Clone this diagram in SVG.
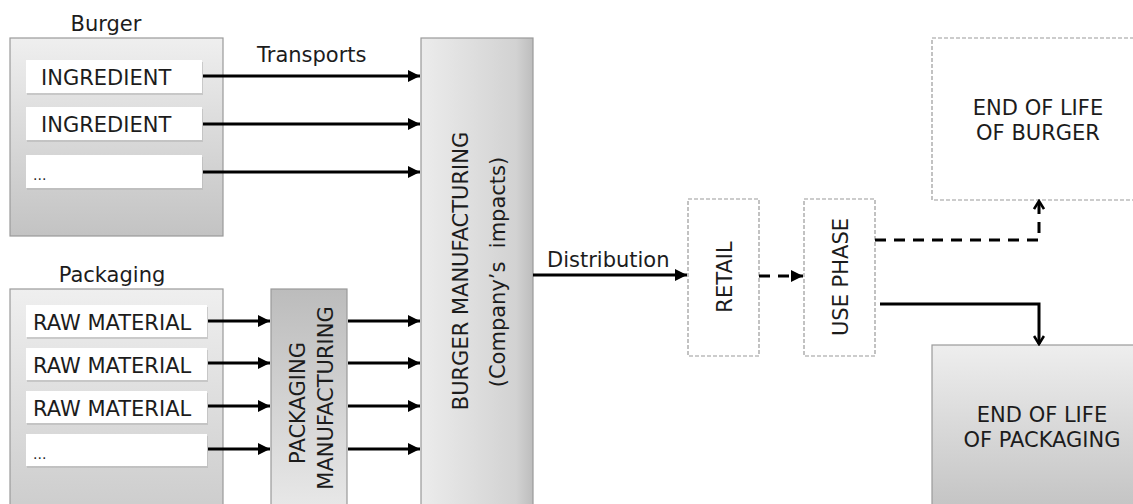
<svg xmlns="http://www.w3.org/2000/svg" width="1133" height="504" viewBox="0 0 1133 504">
<defs>
<linearGradient id="gV" x1="0" y1="0" x2="0" y2="1"><stop offset="0" stop-color="#efefef"/><stop offset="1" stop-color="#c3c3c3"/></linearGradient>
<linearGradient id="gPk" x1="0" y1="0" x2="0" y2="1"><stop offset="0" stop-color="#efefef"/><stop offset="1" stop-color="#cdcdcd"/></linearGradient>
<linearGradient id="gPM" x1="0" y1="0" x2="0" y2="1"><stop offset="0" stop-color="#bcbcbc"/><stop offset="1" stop-color="#e8e8e8"/></linearGradient>
<linearGradient id="gBM" x1="0" y1="0" x2="1" y2="0"><stop offset="0" stop-color="#ececec"/><stop offset="0.85" stop-color="#d2d2d2"/><stop offset="1" stop-color="#bdbdbd"/></linearGradient>
<linearGradient id="gEP" x1="0" y1="0" x2="0" y2="1"><stop offset="0" stop-color="#eeeeee"/><stop offset="1" stop-color="#c2c2c2"/></linearGradient>
<marker id="ah" viewBox="0 0 10 10" refX="10" refY="5" markerWidth="4" markerHeight="4" orient="auto" markerUnits="strokeWidth"><path d="M0,0 L10,5 L0,10 z" fill="#000"/></marker>
<marker id="av" viewBox="0 0 12 12" refX="10" refY="6" markerWidth="4" markerHeight="4" orient="auto" markerUnits="strokeWidth"><path d="M2,1 L10,6 L2,11" fill="none" stroke="#000" stroke-width="2.6"/></marker>
</defs>
<style>
text{font-family:"DejaVu Sans","Liberation Sans",sans-serif;font-size:21px;fill:#1c1c1c}
.grp{stroke:#9a9a9a;stroke-width:1.2}
.wb{fill:#ffffff}
.sh{fill:#b5b5b5;opacity:0.6}
.ds{fill:none;stroke:#9a9a9a;stroke-width:1.2;stroke-dasharray:4 2}
.ln{fill:none;stroke:#000;stroke-width:3}
.dl{fill:none;stroke:#000;stroke-width:3;stroke-dasharray:11 8}
.mid{text-anchor:middle}
</style>

<g id="burger">
<text x="106" y="31" class="mid">Burger</text>
<rect x="10" y="38" width="213" height="198" fill="url(#gV)" class="grp"/>
</g>
<g id="ingredient1"><rect x="27" y="62" width="176" height="33" class="sh"/><rect x="26" y="60" width="176" height="33" class="wb"/><text x="41" y="85">INGREDIENT</text></g>
<g id="ingredient2"><rect x="27" y="109" width="176" height="33" class="sh"/><rect x="26" y="107" width="176" height="33" class="wb"/><text x="41" y="132">INGREDIENT</text></g>
<g id="ingredient3"><rect x="27" y="157" width="176" height="33" class="sh"/><rect x="26" y="155" width="176" height="33" class="wb"/><text x="33" y="180" style="font-size:14px">...</text></g>

<g id="packaging">
<text x="112" y="282" class="mid">Packaging</text>
<rect x="10" y="289" width="213" height="220" fill="url(#gPk)" class="grp"/>
</g>
<g id="raw1"><rect x="27" y="307" width="181" height="32" class="sh"/><rect x="26" y="305" width="181" height="32" class="wb"/><text x="33" y="330">RAW MATERIAL</text></g>
<g id="raw2"><rect x="27" y="350" width="181" height="32" class="sh"/><rect x="26" y="348" width="181" height="32" class="wb"/><text x="33" y="373">RAW MATERIAL</text></g>
<g id="raw3"><rect x="27" y="393" width="181" height="32" class="sh"/><rect x="26" y="391" width="181" height="32" class="wb"/><text x="33" y="416">RAW MATERIAL</text></g>
<g id="raw4"><rect x="27" y="436" width="181" height="32" class="sh"/><rect x="26" y="434" width="181" height="32" class="wb"/><text x="33" y="459" style="font-size:14px">...</text></g>

<g id="packaging-manufacturing">
<rect x="271" y="289" width="76" height="220" fill="url(#gPM)" class="grp"/>
<text class="mid" transform="translate(305,403) rotate(-90)">PACKAGING</text>
<text class="mid" transform="translate(333,398) rotate(-90)">MANUFACTURING</text>
</g>

<g id="burger-manufacturing">
<rect x="421" y="38" width="112" height="471" fill="url(#gBM)" class="grp"/>
<text class="mid" transform="translate(468,271) rotate(-90)">BURGER MANUFACTURING</text>
<text class="mid" transform="translate(505,272) rotate(-90)" xml:space="preserve">(Company’s  impacts)</text>
</g>

<g id="retail">
<rect x="688" y="199" width="71" height="157" class="ds"/>
<text class="mid" transform="translate(732,277) rotate(-90)">RETAIL</text>
</g>
<g id="use-phase">
<rect x="804" y="199" width="71" height="157" class="ds"/>
<text class="mid" transform="translate(848,277) rotate(-90)">USE PHASE</text>
</g>

<g id="eol-burger">
<rect x="932" y="38" width="210" height="162" class="ds"/>
<text x="1038" y="115" class="mid">END OF LIFE</text>
<text x="1038" y="140" class="mid">OF BURGER</text>
</g>
<g id="eol-packaging">
<rect x="932" y="345" width="210" height="170" fill="url(#gEP)" class="grp"/>
<text x="1042" y="422" class="mid">END OF LIFE</text>
<text x="1042" y="447" class="mid">OF PACKAGING</text>
</g>

<g id="connectors">
<text x="257" y="62">Transports</text>
<path class="ln" d="M203,76 H420" marker-end="url(#ah)"/>
<path class="ln" d="M203,124 H420" marker-end="url(#ah)"/>
<path class="ln" d="M203,172 H420" marker-end="url(#ah)"/>
<path class="ln" d="M208,321 H270" marker-end="url(#ah)"/>
<path class="ln" d="M208,363 H270" marker-end="url(#ah)"/>
<path class="ln" d="M208,406 H270" marker-end="url(#ah)"/>
<path class="ln" d="M208,449 H270" marker-end="url(#ah)"/>
<path class="ln" d="M348,321 H420" marker-end="url(#ah)"/>
<path class="ln" d="M348,363 H420" marker-end="url(#ah)"/>
<path class="ln" d="M348,406 H420" marker-end="url(#ah)"/>
<path class="ln" d="M348,449 H420" marker-end="url(#ah)"/>
<text x="547" y="267">Distribution</text>
<path class="ln" d="M533,275 H687" marker-end="url(#ah)"/>
<path class="dl" d="M759,276 H803" stroke-dasharray="11 9" marker-end="url(#ah)"/>
<path class="dl" d="M875,240 H1039 V201" marker-end="url(#av)"/>
<path class="ln" d="M880,304 H1039 V344" marker-end="url(#av)"/>
</g>
</svg>
